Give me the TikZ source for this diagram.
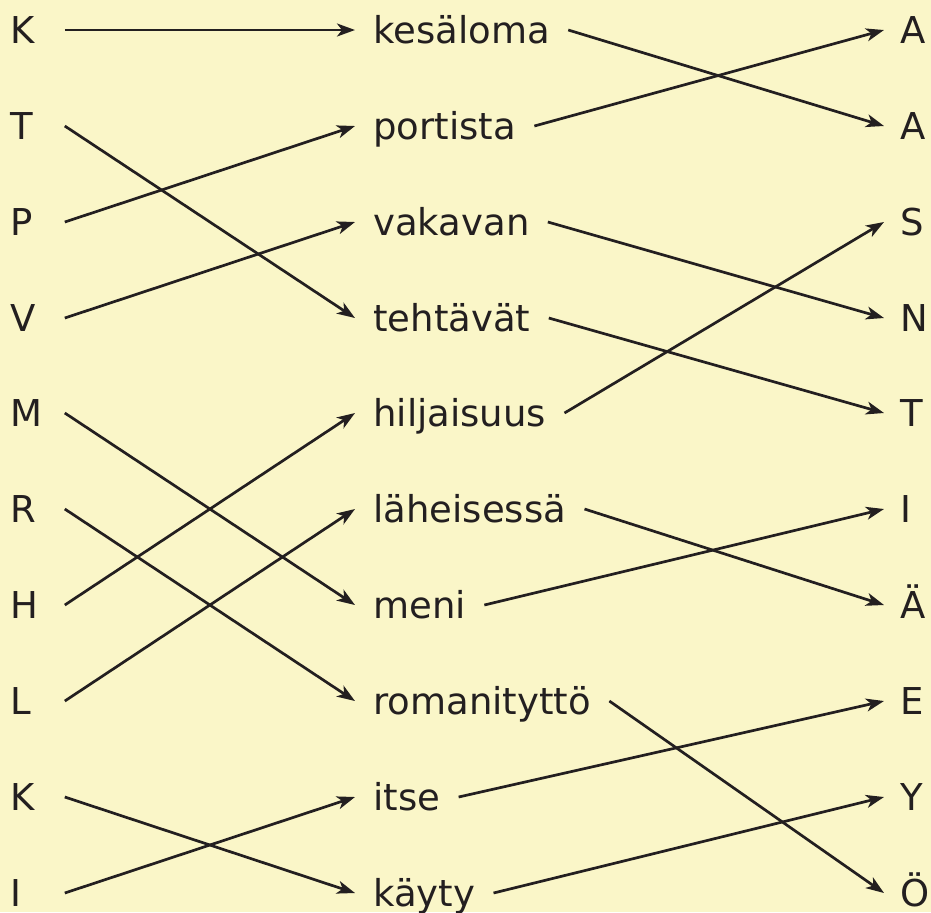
\documentclass[tikz,border=0pt]{standalone}
\usepackage{fontspec}
\setmainfont{DejaVu Sans}
\usetikzlibrary{arrows.meta}
\definecolor{paper}{HTML}{FAF6C8}
\definecolor{ink}{HTML}{231F20}

\begin{document}
\begin{tikzpicture}[x=0.5pt, y=-0.5pt,
        font=\fontsize{18.5}{22}\selectfont, text=ink,
        every node/.style={inner ysep=0pt, text height=13.5pt, text depth=0pt},
        letter/.style={anchor=west, inner xsep=0pt, text width=27pt, align=left},
        word/.style={anchor=west, inner xsep=9pt},
        goal/.style={anchor=west, inner xsep=8pt},
        link/.style={draw=ink, line width=1.35pt, -{Stealth[length=9pt, width=6.5pt, inset=2.5pt]}}]
            \useasboundingbox[fill=paper] (0,0) rectangle (931,912);

            % left column
            \node (lk1) [letter] at (10,30) {K};
            \node (lt) [letter] at (10,126) {T};
            \node (lp) [letter] at (10,222) {P};
            \node (lv) [letter] at (10,318) {V};
            \node (lm) [letter] at (10,413) {M};
            \node (lr) [letter] at (10,509) {R};
            \node (lh) [letter] at (10,605) {H};
            \node (ll) [letter] at (10,701) {L};
            \node (lk2) [letter] at (10,797) {K};
            \node (li) [letter] at (10,893) {I};

            % middle column
            \node (kesaloma) [word] at (355,30) {kesäloma};
            \node (portista) [word] at (355,126) {portista};
            \node (vakavan) [word] at (355,222) {vakavan};
            \node (tehtavat) [word] at (355,318) {tehtävät};
            \node (hiljaisuus) [word] at (355,413) {hiljaisuus};
            \node (laheisessa) [word] at (355,509) {läheisessä};
            \node (meni) [word] at (355,605) {meni};
            \node (romanitytto) [word] at (355,701) {romanityttö};
            \node (itse) [word] at (355,797) {itse};
            \node (kayty) [word] at (355,893) {käyty};

            % right column
            \node (ra1) [goal] at (884,30) {A};
            \node (ra2) [goal] at (884,126) {A};
            \node (rs) [goal] at (884,222) {S};
            \node (rn) [goal] at (884,318) {N};
            \node (rt) [goal] at (884,413) {T};
            \node (ri) [goal] at (884,509) {I};
            \node (rae) [goal] at (884,605) {Ä};
            \node (re) [goal] at (884,701) {E};
            \node (ry) [goal] at (884,797) {Y};
            \node (roe) [goal] at (884,893) {Ö};

            \draw[link] (lk1.east) -- (kesaloma.west);
            \draw[link] (lt.east) -- (tehtavat.west);
            \draw[link] (lp.east) -- (portista.west);
            \draw[link] (lv.east) -- (vakavan.west);
            \draw[link] (lm.east) -- (meni.west);
            \draw[link] (lr.east) -- (romanitytto.west);
            \draw[link] (lh.east) -- (hiljaisuus.west);
            \draw[link] (ll.east) -- (laheisessa.west);
            \draw[link] (lk2.east) -- (kayty.west);
            \draw[link] (li.east) -- (itse.west);

            \draw[link] (kesaloma.east) -- (ra2.west);
            \draw[link] (portista.east) -- (ra1.west);
            \draw[link] (vakavan.east) -- (rn.west);
            \draw[link] (tehtavat.east) -- (rt.west);
            \draw[link] (hiljaisuus.east) -- (rs.west);
            \draw[link] (laheisessa.east) -- (rae.west);
            \draw[link] (meni.east) -- (ri.west);
            \draw[link] (romanitytto.east) -- (roe.west);
            \draw[link] (itse.east) -- (re.west);
            \draw[link] (kayty.east) -- (ry.west);
        \end{tikzpicture}
\end{document}
